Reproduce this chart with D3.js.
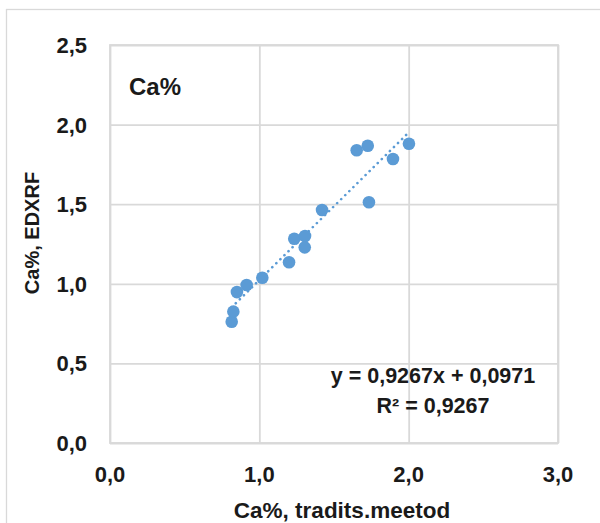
<!DOCTYPE html>
<html>
<head>
<meta charset="utf-8">
<script src="https://cdn.jsdelivr.net/npm/d3@7"></script>
<style>
  html, body { margin: 0; padding: 0; background: #ffffff; }
  svg { display: block; }
  text { font-family: "Liberation Sans", Arial, sans-serif; font-weight: bold; fill: #1a1a1a; }
</style>
</head>
<body>
<svg id="chart" width="600" height="523"></svg>
<script>
// ---- data ----
const xValues = [0.815, 0.826, 0.850, 0.915, 1.020, 1.199, 1.234, 1.306, 1.304, 1.420, 1.652, 1.726, 1.734, 1.895, 2.002];
const yValues = [0.762, 0.825, 0.948, 0.992, 1.038, 1.135, 1.283, 1.300, 1.229, 1.464, 1.839, 1.867, 1.512, 1.784, 1.880];
const xTicks = [0, 1, 2, 3];
const yTicks = [0, 0.5, 1.0, 1.5, 2.0, 2.5];
const trendSlope = 0.9267;
const trendIntercept = 0.0971;
const equationLabel = "y = 0,9267x + 0,0971";
const r2Label = "R² = 0,9267";
const seriesLabel = "Ca%";
const xTitle = "Ca%, tradits.meetod";
const yTitle = "Ca%, EDXRF";

// ---- layout ----
const svg = d3.select("#chart");
const plot = { left: 110, right: 558, top: 45, bottom: 443 };
const blue = "#5b9bd5";
const grid = "#d9d9d9";
const fmt = v => d3.format(".1f")(v).replace(".", ",");

const x = d3.scaleLinear().domain([0, 3]).range([plot.left, plot.right]);
const y = d3.scaleLinear().domain([0, 2.5]).range([plot.bottom, plot.top]);

// outer chart border
svg.append("rect")
  .attr("x", 6.5).attr("y", 9.5)
  .attr("width", 620).attr("height", 540)
  .attr("fill", "none").attr("stroke", grid).attr("stroke-width", 1.3);

// gridlines via axes
const gx = svg.append("g")
  .attr("transform", `translate(0,${plot.bottom})`)
  .call(d3.axisBottom(x).tickValues(xTicks).tickSize(-(plot.bottom - plot.top)).tickFormat(""));
const gy = svg.append("g")
  .attr("transform", `translate(${plot.left},0)`)
  .call(d3.axisLeft(y).tickValues(yTicks).tickSize(-(plot.right - plot.left)).tickFormat(""));
[gx, gy].forEach(g => {
  g.select(".domain").remove();
  g.selectAll("line").attr("stroke", grid).attr("stroke-width", 1.8);
});
svg.append("rect")
  .attr("x", plot.left).attr("y", plot.top)
  .attr("width", plot.right - plot.left).attr("height", plot.bottom - plot.top)
  .attr("fill", "none").attr("stroke", grid).attr("stroke-width", 1.8);

function label(str, px, py, size, anchor) {
  return svg.append("text")
    .attr("x", px).attr("y", py)
    .attr("text-anchor", anchor)
    .style("font-size", size + "px")
    .text(str);
}

// tick labels
yTicks.forEach(t => label(fmt(t), 87, y(t) + 8, 22, "end"));
xTicks.forEach(t => label(fmt(t), x(t), 482, 22, "middle"));

// axis titles
label(xTitle, 342, 518, 22.5, "middle");
svg.append("text")
  .attr("transform", `translate(39,233) rotate(-90)`)
  .attr("text-anchor", "middle")
  .style("font-size", "20px")
  .text(yTitle);

// series label
label(seriesLabel, 129, 95, 24, "start");

// trendline
const xMin = d3.min(xValues), xMax = d3.max(xValues);
svg.append("line")
  .attr("x1", x(xMin)).attr("y1", y(trendSlope * xMin + trendIntercept))
  .attr("x2", x(xMax)).attr("y2", y(trendSlope * xMax + trendIntercept))
  .attr("stroke", blue).attr("stroke-width", 2.6)
  .attr("stroke-linecap", "round")
  .attr("stroke-dasharray", "0.1 5.6");

// points
const pts = xValues.map((v, i) => ({ x: v, y: yValues[i] }));
svg.append("g").selectAll("circle")
  .data(pts).join("circle")
  .attr("cx", d => x(d.x)).attr("cy", d => y(d.y))
  .attr("r", 6.3)
  .attr("fill", blue);

// equation labels
label(equationLabel, 433, 383, 21.5, "middle");
label(r2Label, 433, 413, 21.5, "middle");
</script>
</body>
</html>
